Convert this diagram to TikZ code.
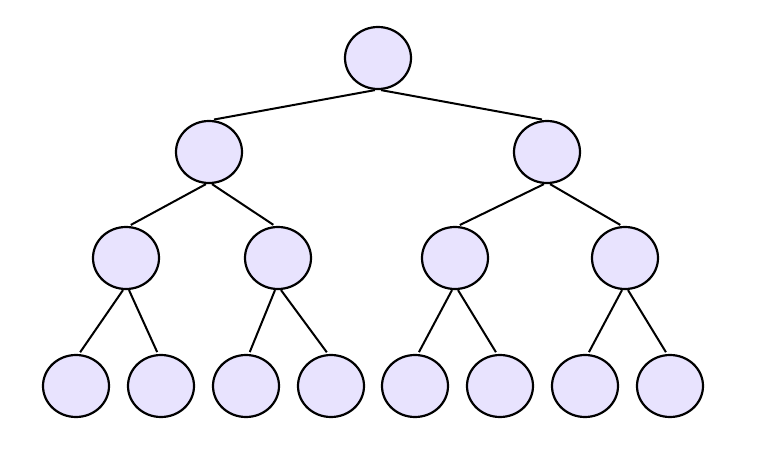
\documentclass[tikz,border=0pt]{standalone}
\usetikzlibrary{shapes.geometric}
\definecolor{nodefill}{HTML}{E8E3FE}
\begin{document}
\begin{tikzpicture}[x=1pt,y=-1pt,
  tnode/.style={ellipse,draw=black,line width=2.2pt,fill=nodefill,minimum width=66pt,minimum height=62pt,inner sep=0pt},
  edge/.style={line width=2pt,shorten >=2pt}]
\useasboundingbox (0,0) rectangle (772,458);
\node[tnode] (r) at (378,58) {};
\node[tnode] (a) at (209,152) {};
\node[tnode] (b) at (547,152) {};
\node[tnode] (a1) at (126,258) {};
\node[tnode] (a2) at (278,258) {};
\node[tnode] (b1) at (455,258) {};
\node[tnode] (b2) at (625,258) {};
\node[tnode] (l1) at (76,386) {};
\node[tnode] (l2) at (161,386) {};
\node[tnode] (l3) at (246,386) {};
\node[tnode] (l4) at (331,386) {};
\node[tnode] (l5) at (415,386) {};
\node[tnode] (l6) at (500,386) {};
\node[tnode] (l7) at (585,386) {};
\node[tnode] (l8) at (670,386) {};
\foreach \p/\c in {r/a,a/a1,b/b1,a1/l1,a2/l3,b1/l5,b2/l7}
  \draw[edge] ([xshift=-3pt]\p.south) -- ([xshift=3pt]\c.north);
\foreach \p/\c in {r/b,a/a2,b/b2,a1/l2,a2/l4,b1/l6,b2/l8}
  \draw[edge] ([xshift=3pt]\p.south) -- ([xshift=-3pt]\c.north);
\end{tikzpicture}
\end{document}
